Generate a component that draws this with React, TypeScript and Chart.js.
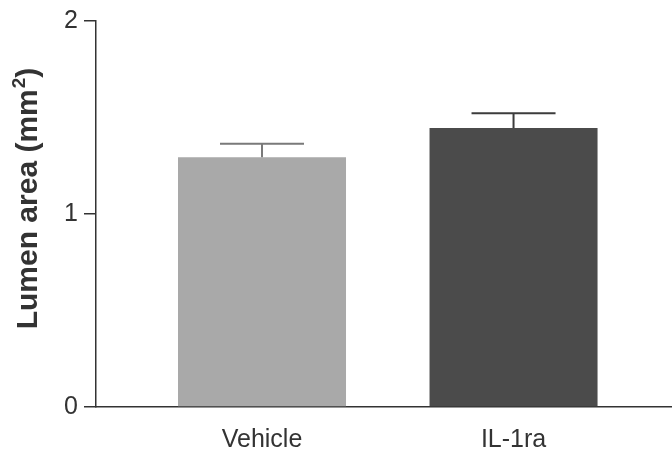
import React, { useEffect, useRef } from "react";
import { Chart, registerables } from "chart.js";

Chart.register(...registerables);

// Groups, their means and the upper SEM
const groups = ["Vehicle", "IL-1ra"];
const groupPositions = [1, 2];
const meanArea = [1.294, 1.445];
const semArea = [0.07, 0.077];
const barColors = ["#a9a9a9", "#4b4b4b"];
const errorColors = ["#7a7a7a", "#3c3c3c"];
const yTicks = [0, 1, 2];

const INK = "#333333";

// Draws the upper error whisker with a cap half as wide as the bar
const errorBarPlugin = {
  id: "errorBars",
  afterDatasetsDraw(chart: any) {
    const { ctx } = chart;
    const meta = chart.getDatasetMeta(0);
    const yScale = chart.scales.y;
    meta.data.forEach((bar: any, i: number) => {
      const top = yScale.getPixelForValue(meanArea[i] + semArea[i]);
      const base = yScale.getPixelForValue(meanArea[i]);
      const half = bar.width / 4;
      ctx.save();
      ctx.strokeStyle = errorColors[i];
      ctx.lineWidth = 2;
      ctx.beginPath();
      ctx.moveTo(bar.x, base);
      ctx.lineTo(bar.x, top);
      ctx.moveTo(bar.x - half, top);
      ctx.lineTo(bar.x + half, top);
      ctx.stroke();
      ctx.restore();
    });
  },
};

// Rotated y-axis title with a raised "2"
const yTitlePlugin = {
  id: "yTitle",
  afterDraw(chart: any) {
    const { ctx, chartArea } = chart;
    const main = "Lumen area (mm";
    const sup = "2";
    const close = ")";
    const mainFont = "bold 30px 'Liberation Sans', Arial, sans-serif";
    const supFont = "bold 19px 'Liberation Sans', Arial, sans-serif";
    ctx.save();
    ctx.font = mainFont;
    const w1 = ctx.measureText(main).width;
    const w3 = ctx.measureText(close).width;
    ctx.font = supFont;
    const w2 = ctx.measureText(sup).width;
    const total = w1 + w2 + w3;
    const cy = (chartArea.top + chartArea.bottom) / 2 - 15;
    ctx.translate(37, cy);
    ctx.rotate(-Math.PI / 2);
    ctx.fillStyle = INK;
    ctx.textBaseline = "alphabetic";
    ctx.textAlign = "left";
    let x = -total / 2;
    ctx.font = mainFont;
    ctx.fillText(main, x, 0);
    x += w1;
    ctx.font = supFont;
    ctx.fillText(sup, x + 1, -12);
    x += w2 + 1;
    ctx.font = mainFont;
    ctx.fillText(close, x, 0);
    ctx.restore();
  },
};

export default function App() {
  const canvasRef = useRef<HTMLCanvasElement | null>(null);

  useEffect(() => {
    const canvas = canvasRef.current;
    if (!canvas) return;
    const chart = new Chart(canvas, {
      type: "bar",
      data: {
        datasets: [
          {
            data: groupPositions.map((p, i) => ({ x: p, y: meanArea[i] })),
            backgroundColor: barColors,
            borderWidth: 0,
            categoryPercentage: 1,
            barPercentage: 0.668,
          },
        ],
      },
      options: {
        responsive: false,
        animation: false,
        events: [],
        layout: { padding: { top: 20, right: 0, left: 0, bottom: 0 } },
        plugins: {
          legend: { display: false },
          tooltip: { enabled: false },
          title: { display: false },
        },
        scales: {
          x: {
            type: "linear",
            offset: false,
            bounds: "data",
            min: 0.34,
            max: 2.63,
            afterBuildTicks: (scale: any) => {
              scale.ticks = groupPositions.map((v) => ({ value: v }));
            },
            afterFit: (scale: any) => {
              scale.height = 45;
            },
            grid: { display: false, offset: false },
            border: { display: true, color: INK, width: 1.5 },
            ticks: {
              padding: 10,
              color: INK,
              font: { family: "'Liberation Sans', Arial, sans-serif", size: 25 },
              callback: (v: any) => {
                const idx = groupPositions.indexOf(Number(v));
                return idx >= 0 ? groups[idx] : "";
              },
            },
          },
          y: {
            min: 0,
            max: 2,
            afterBuildTicks: (scale: any) => {
              scale.ticks = yTicks.map((v) => ({ value: v }));
            },
            afterFit: (scale: any) => {
              scale.width = 96;
            },
            grid: {
              drawOnChartArea: false,
              drawTicks: true,
              tickLength: 12,
              color: INK,
              lineWidth: 1.5,
            },
            border: { display: true, color: INK, width: 1.5 },
            ticks: {
              padding: 6,
              color: INK,
              font: { family: "'Liberation Sans', Arial, sans-serif", size: 25 },
            },
          },
        },
      },
      plugins: [errorBarPlugin, yTitlePlugin],
    });
    return () => chart.destroy();
  }, []);

  return (
    <div
      style={{
        position: "fixed",
        left: 0,
        top: 0,
        width: 672,
        height: 452,
        background: "#ffffff",
      }}
    >
      <canvas ref={canvasRef} width={672} height={452} />
    </div>
  );
}
